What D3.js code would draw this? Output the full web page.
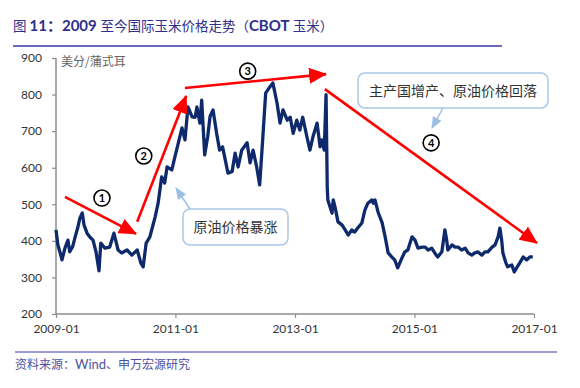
<!DOCTYPE html>
<html><head><meta charset="utf-8">
<script src="https://cdn.jsdelivr.net/npm/d3@7"></script>
<style>body{margin:0;background:#fff}svg{display:block}</style>
</head><body><svg id="c" width="580" height="388"></svg>
<script>
// ---- data (decimal year, price in US cents / bushel) ----
const years = [2009.00,2009.03,2009.07,2009.10,2009.15,2009.20,2009.23,2009.28,2009.32,2009.37,2009.40,2009.44,2009.47,2009.52,2009.57,2009.62,2009.67,2009.72,2009.75,2009.82,2009.90,2009.97,2010.04,2010.10,2010.19,2010.27,2010.36,2010.42,2010.46,2010.51,2010.57,2010.66,2010.71,2010.77,2010.82,2010.86,2010.94,2010.99,2011.04,2011.11,2011.16,2011.21,2011.28,2011.33,2011.36,2011.41,2011.44,2011.49,2011.54,2011.58,2011.63,2011.69,2011.74,2011.79,2011.88,2011.95,2012.00,2012.05,2012.11,2012.20,2012.25,2012.30,2012.36,2012.41,2012.46,2012.51,2012.58,2012.63,2012.70,2012.75,2012.80,2012.87,2012.92,2012.97,2013.03,2013.08,2013.13,2013.20,2013.25,2013.30,2013.37,2013.42,2013.45,2013.49,2013.52,2013.54,2013.55,2013.62,2013.64,2013.67,2013.72,2013.79,2013.84,2013.89,2013.95,2014.00,2014.05,2014.12,2014.17,2014.22,2014.29,2014.31,2014.34,2014.39,2014.46,2014.51,2014.56,2014.62,2014.67,2014.72,2014.79,2014.84,2014.89,2014.96,2015.01,2015.06,2015.13,2015.18,2015.23,2015.29,2015.34,2015.39,2015.46,2015.51,2015.54,2015.56,2015.63,2015.68,2015.73,2015.79,2015.85,2015.90,2015.96,2016.01,2016.06,2016.13,2016.18,2016.23,2016.30,2016.35,2016.40,2016.43,2016.46,2016.48,2016.53,2016.56,2016.63,2016.67,2016.72,2016.77,2016.82,2016.88,2016.93,2016.98];
const prices = [430,390,367,348,380,402,370,385,410,440,462,476,443,421,410,402,370,318,394,380,383,421,375,367,375,361,375,340,329,394,410,465,503,575,558,602,594,629,662,709,676,766,739,738,766,722,785,635,684,740,758,694,648,657,585,590,640,602,648,668,613,648,602,553,676,804,821,832,777,722,758,730,738,694,730,703,738,684,648,684,722,657,676,648,800,547,512,476,512,493,452,443,430,416,430,424,435,449,484,503,512,503,512,479,449,411,367,356,348,326,353,370,375,411,402,380,383,383,375,380,367,356,370,430,402,375,389,383,383,375,380,367,361,367,370,361,370,370,383,389,411,435,402,367,340,329,334,315,329,342,356,348,356,356,361];
const yTicks = [200,300,400,500,600,700,800,900];
const xTickYears = [2009,2011,2013,2015,2017];
const xTickLabels = ["2009-01","2011-01","2013-01","2015-01","2017-01"];
// trend arrows [startYear, startValue, endYear, endValue]
const arrows = [[2009.15,520,2010.34,419],[2010.36,452,2011.18,796],[2011.16,818,2013.52,856],[2013.50,815,2017.05,394]];
const stepPos = [[2009.77,517],[2010.47,632],[2012.21,864],[2015.28,668]];
const notes = ["原油价格暴涨","主产国增产、原油价格回落"];

const toDate = y => { const yr = Math.floor(y); const s = new Date(yr,0,1), e = new Date(yr+1,0,1); return new Date(+s + (y-yr)*(e-s)); };

const svg = d3.select("#c");
const x = d3.scaleTime().domain([new Date(2009,0,1), new Date(2017,0,1)]).range([56,534]);
const y = d3.scaleLinear().domain([200,900]).range([314,58]);

// title
const titleParts = [
  {t:"图 ",b:false},{t:"11：2009 ",b:true},{t:"至今国际玉米价格走势（",b:false},{t:"CBOT ",b:true},{t:"玉米）",b:false}];
const title = svg.append("text").attr("x",13).attr("y",31).attr("fill","#2e2e8c")
  .attr("font-family","'Noto Sans CJK SC', sans-serif").attr("font-size",13.5);
titleParts.forEach(p=>{
  const s = title.append("tspan").text(p.t);
  if (p.b) s.attr("font-weight","bold").attr("font-size",15).attr("font-family","Lato, 'Noto Sans CJK SC', sans-serif");
});
svg.append("line").attr("x1",13).attr("x2",502).attr("y1",46).attr("y2",46).attr("stroke","#6a6ab6").attr("stroke-width",2);

// axes
const yAxis = svg.append("g").attr("transform","translate(56,0)")
  .call(d3.axisLeft(y).tickValues(yTicks).tickSize(4).tickPadding(10));
const xAxis = svg.append("g").attr("transform","translate(0,314)")
  .call(d3.axisBottom(x).tickValues(xTickYears.map(v=>new Date(v,0,1))).tickSize(4).tickPadding(6)
    .tickFormat((d,i)=>xTickLabels[i]));
[yAxis,xAxis].forEach(g=>{
  g.select(".domain").attr("stroke","#8c8c8c").attr("stroke-width",1.5);
  g.selectAll(".tick line").attr("stroke","#8c8c8c").attr("stroke-width",1.2);
  g.selectAll("text").attr("fill","#333").attr("font-family","Lato, 'Open Sans', sans-serif").attr("font-size",12);
});
yAxis.select(".domain").attr("d","M0,314V58");
xAxis.select(".domain").attr("d","M56,0H534");

svg.append("text").attr("x",61).attr("y",66).attr("fill","#666").attr("font-size",12)
  .attr("font-family","'Noto Sans CJK SC', sans-serif").text("美分/蒲式耳");

// series
const data = years.map((v,i)=>({d:toDate(v), v:prices[i]}));
svg.append("path").datum(data).attr("fill","none").attr("stroke","#0f2a6c").attr("stroke-width",3.3)
  .attr("stroke-linejoin","round").attr("d", d3.line().x(d=>x(d.d)).y(d=>y(d.v)));

// arrow markers
const defs = svg.append("defs");
defs.append("marker").attr("id","red").attr("markerUnits","userSpaceOnUse").attr("markerWidth",18).attr("markerHeight",16)
  .attr("viewBox","0 0 18 16").attr("refX",17).attr("refY",8).attr("orient","auto")
  .append("path").attr("d","M0,0L18,8L0,16Z").attr("fill","#ff0000");
defs.append("marker").attr("id","blue").attr("markerUnits","userSpaceOnUse").attr("markerWidth",12).attr("markerHeight",10)
  .attr("viewBox","0 0 12 10").attr("refX",11).attr("refY",5).attr("orient","auto")
  .append("path").attr("d","M0,0L12,5L0,10Z").attr("fill","#9cc0e4");

svg.selectAll(".arr").data(arrows).join("line").attr("class","arr")
  .attr("x1",d=>x(toDate(d[0]))).attr("y1",d=>y(d[1])).attr("x2",d=>x(toDate(d[2]))).attr("y2",d=>y(d[3]))
  .attr("stroke","#ff0000").attr("stroke-width",2.6).attr("marker-end","url(#red)");

const steps = svg.selectAll(".step").data(stepPos).join("g").attr("class","step")
  .attr("transform",d=>`translate(${x(toDate(d[0]))},${y(d[1])})`);
steps.append("circle").attr("r",8).attr("fill","#fff").attr("stroke","#000").attr("stroke-width",1.6);
steps.append("text").attr("text-anchor","middle").attr("dy",4).attr("font-size",11).attr("font-weight","bold")
  .attr("font-family","Lato, sans-serif").text((d,i)=>String(i+1));

// callouts
const boxes = [{x:183,y:209,w:105,h:36,from:[190,209],to:[176,188]},{x:358,y:73,w:190,h:35,from:[443,108],to:[432,128]}];
boxes.forEach((b,i)=>{
  svg.append("line").attr("x1",b.from[0]).attr("y1",b.from[1]).attr("x2",b.to[0]).attr("y2",b.to[1])
    .attr("stroke","#9cc0e4").attr("stroke-width",1.5).attr("marker-end","url(#blue)");
  svg.append("rect").attr("x",b.x).attr("y",b.y).attr("width",b.w).attr("height",b.h).attr("rx",7)
    .attr("fill","#fff").attr("stroke","#a9c8e6").attr("stroke-width",1.5);
  svg.append("text").attr("x",b.x+b.w/2).attr("y",b.y+b.h/2+5).attr("text-anchor","middle")
    .attr("font-size",14).attr("fill","#333").attr("font-family","'Noto Sans CJK SC', sans-serif").text(notes[i]);
});

// footer
svg.append("line").attr("x1",15).attr("x2",557).attr("y1",352).attr("y2",352).attr("stroke","#7a7abf").attr("stroke-width",1.5);
const src = svg.append("text").attr("x",15).attr("y",369).attr("fill","#4f4fa0").attr("font-size",12)
  .attr("font-family","'Noto Sans CJK SC', sans-serif");
src.append("tspan").text("资料来源：");
src.append("tspan").attr("font-family","Lato, sans-serif").attr("font-size",13).text("Wind");
src.append("tspan").text("、申万宏源研究");
</script></body></html>
